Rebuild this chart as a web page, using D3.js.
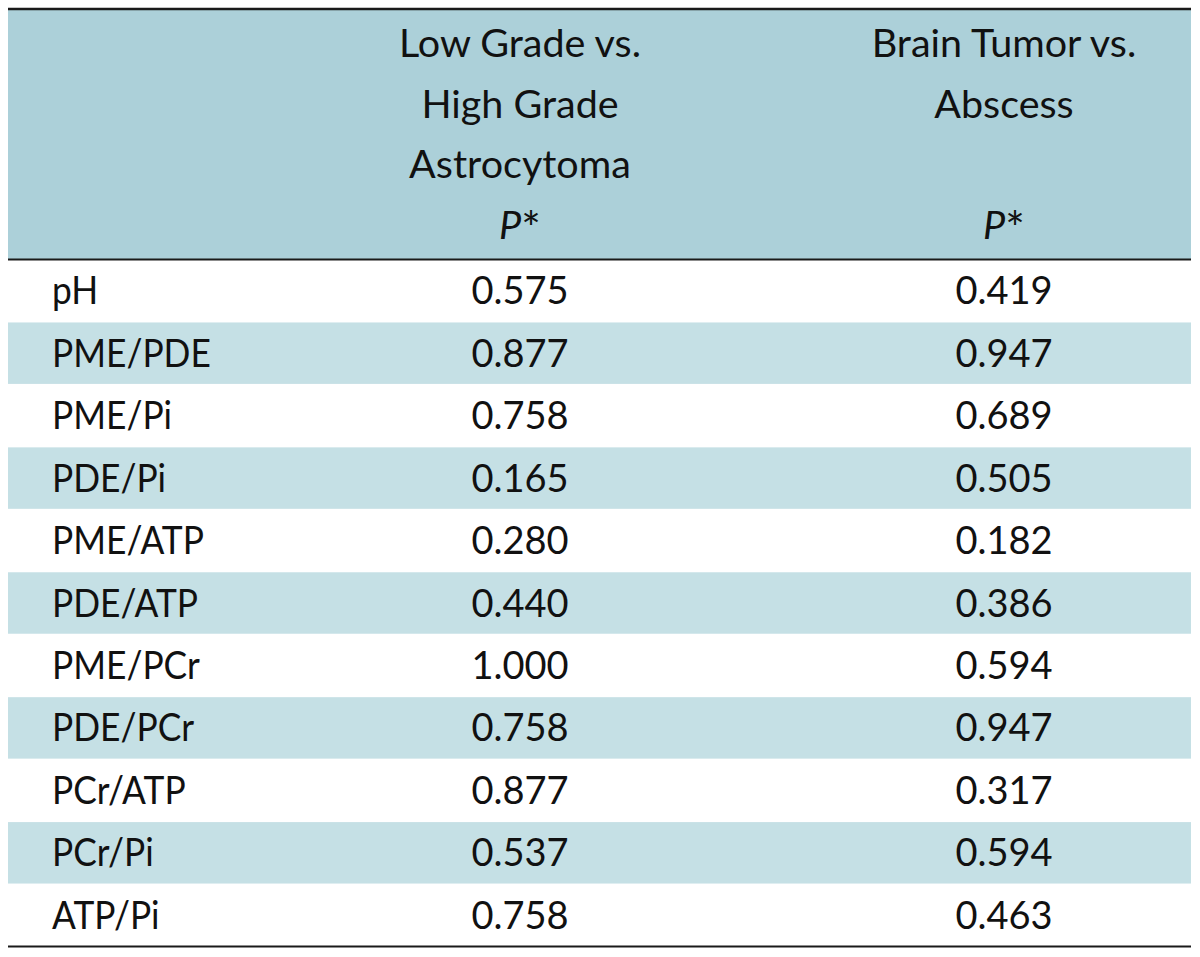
<!DOCTYPE html>
<html><head><meta charset="utf-8">
<script src="https://cdn.jsdelivr.net/npm/d3@7"></script>
<style>html,body{margin:0;padding:0;background:#fff}svg{display:block}</style>
</head><body><svg id="c" width="1200" height="957"></svg>
<script>
const rowLabels = ["pH","PME/PDE","PME/Pi","PDE/Pi","PME/ATP","PDE/ATP","PME/PCr","PDE/PCr","PCr/ATP","PCr/Pi","ATP/Pi"];
const lowVsHigh = [0.575,0.877,0.758,0.165,0.280,0.440,1.000,0.758,0.877,0.537,0.758];
const tumorVsAbscess = [0.419,0.947,0.689,0.505,0.182,0.386,0.594,0.947,0.317,0.594,0.463];
const header1 = ["Low Grade vs.","High Grade","Astrocytoma"];
const header2 = ["Brain Tumor vs.","Abscess"];
const pLabel = "P";

(function(){
const tLeft = 8, tRight = 1191, tTop = 9, headBottom = 259.5, tBottom = 946.5;
const font = "Lato, 'Open Sans', sans-serif";
const svg = d3.select("#c");
const fmt = d3.format(".3f");

const y = d3.scaleBand().domain(d3.range(rowLabels.length)).range([headBottom, tBottom]).padding(0);
const colX = d3.scaleOrdinal().domain(["label","c1","c2"]).range([52, 520, 1004]);
const lineY = d3.scaleLinear().domain([0, 1]).range([57, 117.5]);

svg.append("rect").attr("x", tLeft).attr("y", tTop).attr("width", tRight-tLeft).attr("height", headBottom-tTop).attr("fill", "#acd0d9");

svg.selectAll("rect.stripe").data(d3.range(rowLabels.length).filter(i => i % 2 === 1)).join("rect")
  .attr("class","stripe").attr("x", tLeft).attr("width", tRight-tLeft)
  .attr("y", i => y(i)+0.5).attr("height", y.bandwidth()-1).attr("fill", "#c5e0e5");

const hg = svg.append("g").attr("font-family", font).attr("font-size", 39.5).attr("fill", "#111").attr("text-anchor","middle");
hg.selectAll("text.h1").data(header1).join("text").attr("class","h1")
  .attr("x", colX("c1")).attr("y", (d,i) => lineY(i)).text(d => d);
hg.selectAll("text.h2").data(header2).join("text").attr("class","h2")
  .attr("x", colX("c2")).attr("y", (d,i) => lineY(i)).text(d => d);
["c1","c2"].forEach(c => {
  const t = hg.append("text").attr("x", colX(c)).attr("y", 239);
  t.append("tspan").attr("font-style","italic").text(pLabel);
  t.append("tspan").attr("font-size", 46).attr("dy", 6).text("*");
});

const bg = svg.append("g").attr("font-family", font).attr("font-size", 38).attr("fill", "#111");
const rows = bg.selectAll("g.row").data(rowLabels.map((l,i)=>({l, a: lowVsHigh[i], b: tumorVsAbscess[i], i}))).join("g")
  .attr("transform", d => `translate(0,${y(d.i) + y.bandwidth()/2 + 13.5})`);
rows.append("text").attr("transform", `translate(${colX("label")},0) scale(0.93,1)`).text(d => d.l);
rows.append("text").attr("x", colX("c1")).attr("text-anchor","middle").text(d => fmt(d.a));
rows.append("text").attr("x", colX("c2")).attr("text-anchor","middle").text(d => fmt(d.b));

const rules = [{y: tTop, w: 2.5}, {y: headBottom, w: 2.2}, {y: tBottom, w: 2.2}];
svg.selectAll("line.rule").data(rules).join("line").attr("class","rule")
  .attr("x1", tLeft).attr("x2", tRight).attr("y1", d => d.y).attr("y2", d => d.y)
  .attr("stroke", "#1a1a1a").attr("stroke-width", d => d.w);
})();
</script></body></html>
